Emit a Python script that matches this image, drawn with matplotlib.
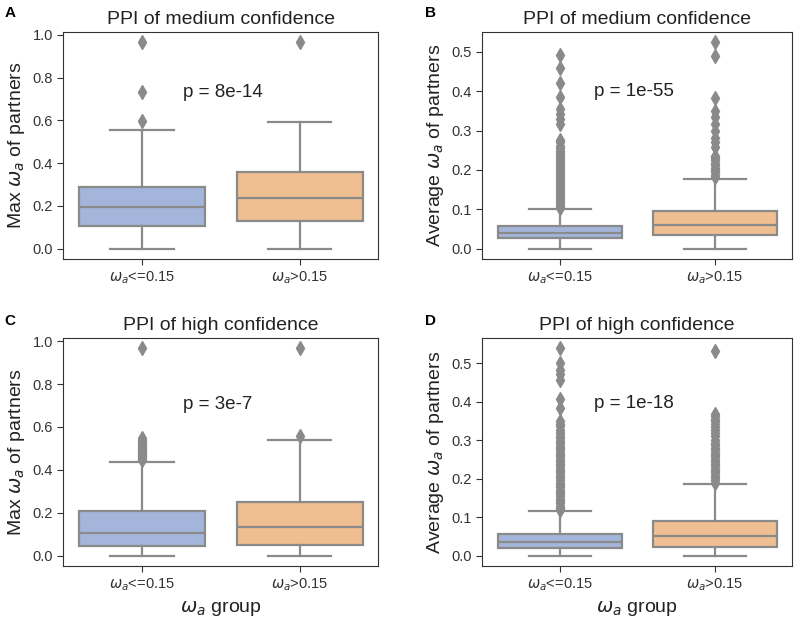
import matplotlib
matplotlib.use("Agg")
import matplotlib.pyplot as plt

plt.rcParams['font.family'] = ['Liberation Sans', 'DejaVu Sans']
plt.rcParams['mathtext.fontset'] = 'dejavusans'

groups = [r'$\omega_a$<=0.15', r'$\omega_a$>0.15']
box_colors = ['#a3b5da', '#efbe91']
line_gray = '#8a8a8a'

# box stats per panel: [whislo, q1, median, q3, whishi] for (low group, high group)
a_stats = [[0.0, 0.105, 0.195, 0.290, 0.555], [0.0, 0.128, 0.237, 0.360, 0.595]]
a_fliers = [[0.597, 0.735, 0.965], [0.965]]

b_stats = [[0.0, 0.027, 0.039, 0.057, 0.100], [0.0, 0.035, 0.061, 0.095, 0.177]]
b_fliers = [
    [0.102, 0.107, 0.112, 0.117, 0.122, 0.127, 0.132, 0.137, 0.142, 0.147, 0.152,
     0.157, 0.162, 0.167, 0.172, 0.177, 0.182, 0.187, 0.192, 0.197, 0.202, 0.207,
     0.212, 0.217, 0.222, 0.227, 0.232, 0.237, 0.243, 0.249, 0.255, 0.262, 0.270,
     0.276, 0.316, 0.329, 0.343, 0.356, 0.385, 0.421, 0.460, 0.493],
    [0.182, 0.188, 0.194, 0.200, 0.206, 0.212, 0.218, 0.224, 0.230, 0.236, 0.259,
     0.270, 0.280, 0.299, 0.316, 0.335, 0.349, 0.384, 0.490, 0.524],
]

c_stats = [[0.0, 0.044, 0.108, 0.207, 0.437], [0.0, 0.050, 0.134, 0.250, 0.537]]
c_fliers = [
    [0.446, 0.452, 0.458, 0.464, 0.470, 0.476, 0.482, 0.488, 0.494, 0.500, 0.508,
     0.516, 0.524, 0.532, 0.540, 0.548, 0.966],
    [0.560, 0.966],
]

d_stats = [[0.0, 0.020, 0.035, 0.057, 0.115], [0.0, 0.0235, 0.051, 0.091, 0.186]]
d_fliers = [
    [0.118, 0.124, 0.130, 0.136, 0.142, 0.148, 0.154, 0.160, 0.166, 0.172, 0.178,
     0.184, 0.190, 0.196, 0.202, 0.208, 0.214, 0.220, 0.226, 0.232, 0.238, 0.244,
     0.250, 0.256, 0.262, 0.268, 0.274, 0.280, 0.286, 0.292, 0.298, 0.305, 0.312,
     0.320, 0.328, 0.336, 0.343, 0.349, 0.384, 0.408, 0.458, 0.472, 0.484, 0.502,
     0.539],
    [0.190, 0.196, 0.202, 0.208, 0.214, 0.220, 0.226, 0.232, 0.238, 0.244, 0.250,
     0.256, 0.262, 0.268, 0.274, 0.280, 0.287, 0.294, 0.302, 0.310, 0.318, 0.326,
     0.334, 0.342, 0.350, 0.356, 0.362, 0.368, 0.532],
]

letters = ['A', 'B', 'C', 'D']
titles = ['PPI of medium confidence', 'PPI of medium confidence',
          'PPI of high confidence', 'PPI of high confidence']
ylabels = [r'Max $\omega_a$ of partners', r'Average $\omega_a$ of partners',
           r'Max $\omega_a$ of partners', r'Average $\omega_a$ of partners']
pvals = ['p = 8e-14', 'p = 1e-55', 'p = 3e-7', 'p = 1e-18']
p_pos = [(0.38, 0.735), (0.36, 0.74), (0.38, 0.71), (0.36, 0.715)]

all_stats = [a_stats, b_stats, c_stats, d_stats]
all_fliers = [a_fliers, b_fliers, c_fliers, d_fliers]

fig = plt.figure(figsize=(8, 6.18), dpi=100)
rects = [
    [0.079, 0.581, 0.394, 0.367],
    [0.6025, 0.581, 0.3875, 0.367],
    [0.079, 0.084, 0.394, 0.369],
    [0.6025, 0.084, 0.3875, 0.369],
]
letter_pos = [(0.006, 0.979), (0.531, 0.979), (0.006, 0.48), (0.531, 0.48)]

for i in range(4):
    ax = fig.add_axes(rects[i])
    stats = []
    for j in range(2):
        s = all_stats[i][j]
        stats.append(dict(whislo=s[0], q1=s[1], med=s[2], q3=s[3], whishi=s[4],
                          fliers=all_fliers[i][j]))
    bp = ax.bxp(stats, positions=[0, 1], widths=0.8, patch_artist=True,
                boxprops=dict(edgecolor=line_gray, linewidth=1.6),
                whiskerprops=dict(color=line_gray, linewidth=1.6),
                capprops=dict(color=line_gray, linewidth=1.6),
                medianprops=dict(color=line_gray, linewidth=1.6),
                flierprops=dict(marker='d', markersize=7, markerfacecolor=line_gray,
                                markeredgecolor=line_gray, linestyle='none'))
    for patch, c in zip(bp['boxes'], box_colors):
        patch.set_facecolor(c)
    for cap in bp['caps']:
        xd = cap.get_xdata()
        mid = (xd[0] + xd[1]) / 2
        cap.set_xdata([mid - 0.2, mid + 0.2])

    ax.set_xlim(-0.5, 1.5)
    ax.margins(y=0.05)
    ax.autoscale(axis='y')
    ax.set_xticks([0, 1])
    ax.set_xticklabels(groups, fontsize=10.5, color='#333333')
    ax.tick_params(axis='y', labelsize=10.5, labelcolor='#333333')
    ax.tick_params(length=4, color='#333333')
    for sp in ax.spines.values():
        sp.set_color('#333333')
    ax.set_title(titles[i], fontsize=14, pad=6, color='#222222')
    ax.set_ylabel(ylabels[i], fontsize=14, color='#222222')
    if i >= 2:
        ax.set_xlabel(r'$\omega_a$ group', fontsize=14, color='#222222')
    ax.text(p_pos[i][0], p_pos[i][1], pvals[i], transform=ax.transAxes,
            fontsize=13.5, ha='left', va='center', color='#222222')
    fig.text(letter_pos[i][0], letter_pos[i][1], letters[i], fontsize=11,
             fontweight='bold', va='center')

fig.savefig('out.png', dpi=100)
